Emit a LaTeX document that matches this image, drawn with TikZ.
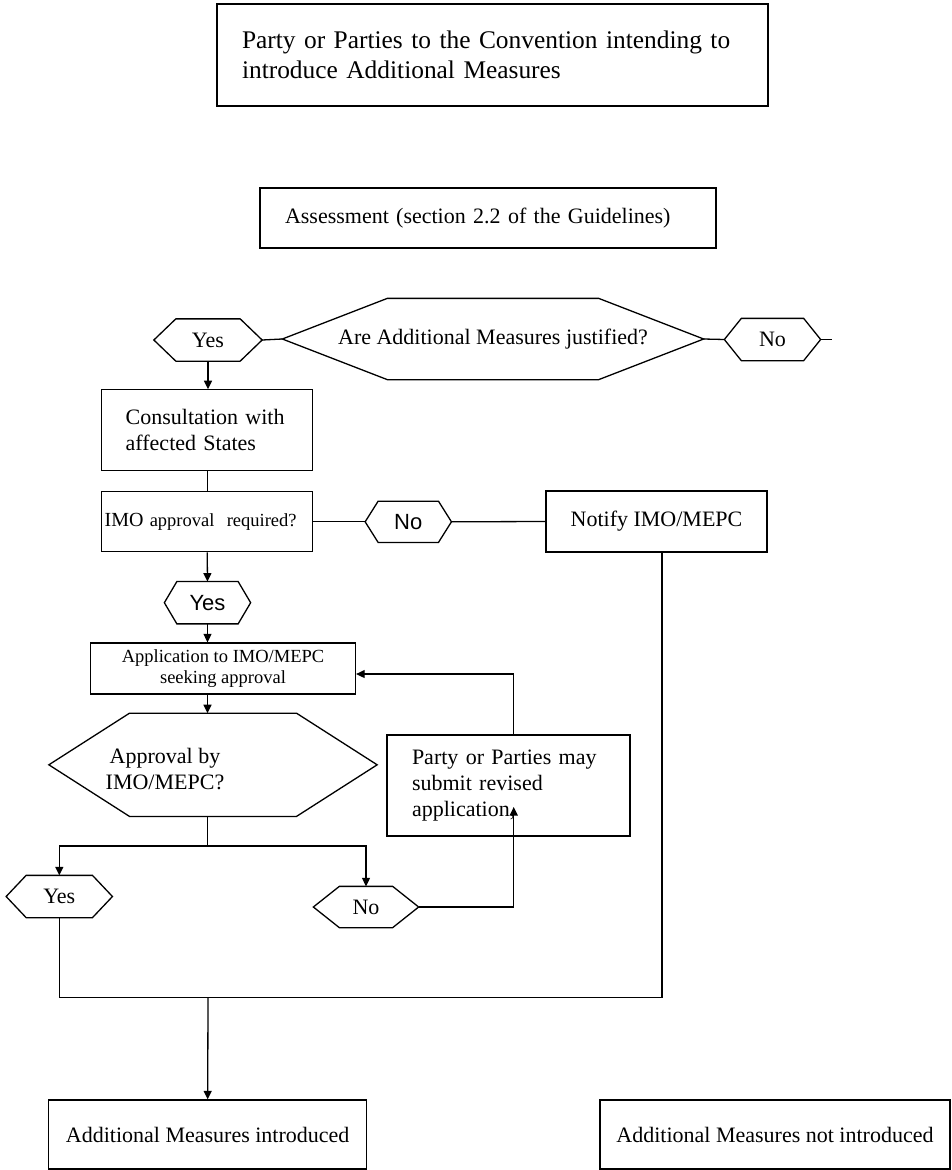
\documentclass[tikz,border=0pt]{standalone}
\usepackage{fontspec}
\setmainfont{Liberation Serif}
\newfontfamily\arialfont{Liberation Sans}
\usetikzlibrary{arrows.meta}
\newcommand*{\lw      }{1.3pt}
\newcommand*{\bigtxt  }{\fontsize{25.4}{30}\selectfont}
\newcommand*{\midtxt  }{\fontsize{22}{26}\selectfont}
\newcommand*{\smalltxt}{\fontsize{18.5}{20.5}\selectfont}
\newcommand*{\hexa}[2]{\draw (#1.west) -- ([xshift=#2]#1.north west) -- ([xshift=-#2]#1.north east) -- (#1.east) -- ([xshift=-#2]#1.south east) -- ([xshift=#2]#1.south west) -- cycle;}
\tikzset{
    box/.style 2 args={draw, rectangle, inner sep=0pt, minimum width=#1, minimum height=#2},
    hexlbl/.style 2 args={rectangle, inner sep=0pt, minimum width=#1, minimum height=#2},
    arr/.style={-{Triangle[length=8.5pt,width=8pt]}}
}

\begin{document}
\begin{tikzpicture}[x=1pt, y=-1pt, line width=\lw]
    \useasboundingbox (0,0) rectangle (951,1170);
        \node [box={551pt}{102pt}, inner xsep=25pt, text width=501pt, align=left, font=\bigtxt] (party) at (492.5,55) {Party or Parties to the Convention intending to\\introduce Additional Measures};
        \node [box={456pt}{60pt}, inner xsep=25pt, text width=406pt, align=left, font=\midtxt] (assess) at (488,218) {Assessment (section 2.2 of the Guidelines)};
        \node [hexlbl={420pt}{80pt}, font=\midtxt] (justified) at (493,339) {Are Additional Measures justified?};
        \hexa{justified}{105pt}
        \node [hexlbl={107pt}{41pt}, font=\midtxt] (yes1) at (208,340) {Yes};
        \hexa{yes1}{22pt}
        \node [hexlbl={95pt}{41pt}, font=\midtxt] (no1) at (772.5,339.5) {No};
        \hexa{no1}{17pt}
        \node [box={211pt}{81pt}, inner xsep=24pt, text width=163pt, align=left, font=\midtxt] (consult) at (207.2,430.3) {Consultation with\\affected States};
        \node [box={211pt}{60pt}, inner xsep=3pt, text width=205pt, align=left, font=\smalltxt] (imo) at (207.2,521.8) {{\fontsize{20}{22}\selectfont IMO} approval\ \ required?};
        \node [hexlbl={85pt}{40pt}, font=\arialfont\midtxt] (no2) at (408.3,521.8) {No};
        \hexa{no2}{13pt}
        \node [box={221pt}{61pt}, font=\midtxt] (notify) at (656.5,521.5) {Notify IMO/MEPC};
        \node [hexlbl={85pt}{41pt}, font=\arialfont\midtxt] (yes2) at (207.5,602.7) {Yes};
        \hexa{yes2}{12.5pt}
        \node [box={265pt}{51pt}, align=center, font=\smalltxt] (app) at (223,668.5) {Application to IMO/MEPC\\seeking approval};
        \node [hexlbl={327pt}{102pt}] (approval) at (213,764.8) {};
        \hexa{approval}{80.7pt}
        \node [align=center, font=\midtxt] (approvaltxt) at (165,769) {Approval by\\IMO/MEPC?};
        \node [box={243pt}{101pt}, inner xsep=25pt, text width=193pt, align=left, font=\midtxt] (revised) at (508.5,785.5) {Party or Parties may\\submit revised\\application,};
        \node [hexlbl={105pt}{41pt}, font=\midtxt] (yes3) at (59.3,896.5) {Yes};
        \hexa{yes3}{20pt}
        \node [hexlbl={104pt}{40pt}, font=\midtxt] (no3) at (366,907) {No};
        \hexa{no3}{26pt}
        \node [box={318pt}{69pt}, font=\midtxt] (intro) at (207.7,1134.5) {Additional Measures introduced};
        \node [box={350pt}{69pt}, font=\midtxt] (notintro) at (775,1134.5) {Additional Measures not introduced};
        \coordinate (no1end) at (832,339.5);
        \coordinate (split)  at (207.3,846);
        \coordinate (loop)   at (513.7,674);
        \coordinate (revin)  at (513.7,807);
        \coordinate (merge)  at (208,997.7);
        \coordinate (tail)   at (662,997.7);
        % connectors
        \draw (yes1.east) -- (justified.west);
        \draw (justified.east) -- (no1.west);
        \draw (no1.east) -- (no1end);
        \draw [arr] (yes1.south) -- (yes1.south |- consult.north);
        \draw (consult) -- (imo);
        \draw (imo.east) -- (no2.west);
        \draw (no2.east) -- (notify.west);
        \draw [arr] (imo.south) -- (yes2.north);
        \draw [arr] (yes2.south) -- (yes2.south |- app.north);
        \draw [arr] (yes2.south |- app.south) -- (yes2.south |- approval.north);
        \draw (split |- approval.south) -- (split);
        \draw [arr] (split) -| (yes3.north);
        \draw [arr] (split) -| (no3.north);
        \draw [arr] (no3.east) -| (revin);
        \draw [arr] (revised.north -| loop) -- (loop) -- (loop -| app.east);
        \draw (yes3.south) |- (tail) -- (tail |- notify.south);
        \draw [arr] (merge) -- (intro.north);
    \end{tikzpicture}
\end{document}
